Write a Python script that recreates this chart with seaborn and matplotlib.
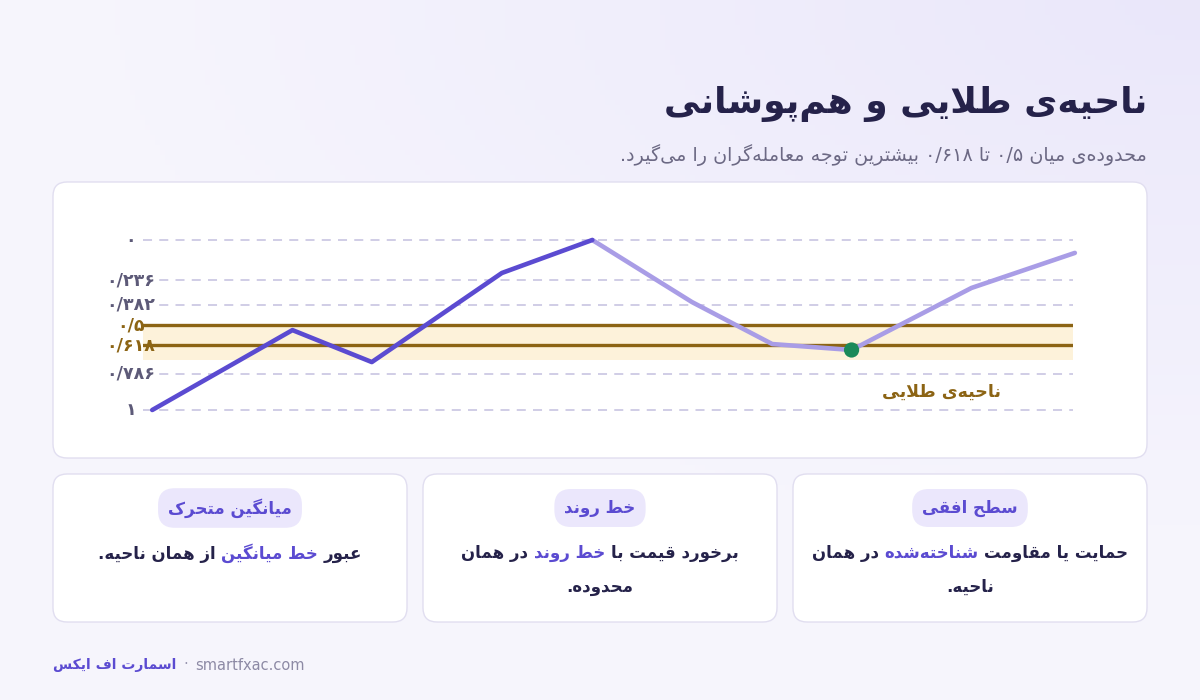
import re
import numpy as np
import matplotlib
matplotlib.use('Agg')
import matplotlib.pyplot as plt
import seaborn as sns
from matplotlib.patches import FancyBboxPatch
from matplotlib.offsetbox import TextArea, HPacker, AnnotationBbox

# Data
levels = [0, 0.236, 0.382, 0.5, 0.618, 0.786, 1]
level_labels = ['۰', '۰/۲۳۶', '۰/۳۸۲', '۰/۵', '۰/۶۱۸', '۰/۷۸۶', '۱']
golden_levels = [0.5, 0.618]
zone = (0.5, 0.705)
price_x = [0, 15.2, 23.8, 37.9, 47.7, 58.5, 67.2, 75.8, 88.8, 100]
price_lvl = [1.0, 0.53, 0.718, 0.194, 0.0, 0.365, 0.612, 0.647, 0.282, 0.076]
swing_high = 4   # impulse ends here, pullback starts
touch_idx = 7    # touch inside golden zone

title = 'ناحیه‌ی طلایی و هم‌پوشانی'
subtitle = 'محدوده‌ی میان ۰/۵ تا ۰/۶۱۸ بیشترین توجه معامله‌گران را می‌گیرد.'
zone_label = 'ناحیه‌ی طلایی'

# cards from left to right
card_titles = ['میانگین متحرک', 'خط روند', 'سطح افقی']
card_lines = [
    [[('عبور', 0), ('خط میانگین', 1), ('از همان ناحیه.', 0)]],
    [[('برخورد قیمت با', 0), ('خط روند', 1), ('در همان', 0)], [('محدوده.', 0)]],
    [[('حمایت یا مقاومت', 0), ('شناخته‌شده', 1), ('در همان', 0)], [('ناحیه.', 0)]],
]
brand = 'اسمارت اف ایکس'
site = 'smartfxac.com'

# colors
INK = '#25224a'
GRAY = '#6c6984'
PURPLE = '#5b4bd1'
LIGHT_PURPLE = '#a99de6'
GOLD = '#8c6414'
ZONE = '#fdf2da'
GRID = '#cdc9e4'
GREEN = '#1b8a5a'
PILL = '#ebe7fc'

# --- tiny persian shaper (no arabic_reshaper available) ---
JOIN = {
    'ا': (0xFE8D, 2), 'آ': (0xFE81, 2), 'ب': (0xFE8F, 4), 'پ': (0xFB56, 4),
    'ت': (0xFE95, 4), 'ث': (0xFE99, 4), 'ج': (0xFE9D, 4), 'چ': (0xFB7A, 4),
    'ح': (0xFEA1, 4), 'خ': (0xFEA5, 4), 'د': (0xFEA9, 2), 'ذ': (0xFEAB, 2),
    'ر': (0xFEAD, 2), 'ز': (0xFEAF, 2), 'ژ': (0xFB8A, 2), 'س': (0xFEB1, 4),
    'ش': (0xFEB5, 4), 'ص': (0xFEB9, 4), 'ض': (0xFEBD, 4), 'ط': (0xFEC1, 4),
    'ظ': (0xFEC5, 4), 'ع': (0xFEC9, 4), 'غ': (0xFECD, 4), 'ف': (0xFED1, 4),
    'ق': (0xFED5, 4), 'ک': (0xFB8E, 4), 'گ': (0xFB92, 4), 'ل': (0xFEDD, 4),
    'م': (0xFEE1, 4), 'ن': (0xFEE5, 4), 'و': (0xFEED, 2), 'ه': (0xFEE9, 4),
    'ی': (0xFBFC, 4), 'ئ': (0xFE89, 4),
}


def shape(s):
    out = []
    i = 0
    n = len(s)
    while i < n:
        c = s[i]
        if c not in JOIN:
            out.append(c)
            i += 1
            continue
        prev = s[i - 1] if i > 0 else None
        jp = prev in JOIN and JOIN[prev][1] == 4
        if c == 'ل' and i + 1 < n and s[i + 1] == 'ا':
            out.append('\uFEFC' if jp else '\uFEFB')
            i += 2
            continue
        nxt = s[i + 1] if i + 1 < n else None
        jn = JOIN[c][1] == 4 and nxt in JOIN
        form = 3 if (jp and jn) else 1 if jp else 2 if jn else 0
        out.append(chr(JOIN[c][0] + form))
        i += 1
    return ''.join(out).replace('\u200c', '')


def rtl(s):
    parts = re.split(r'([0-9۰-۹]+(?:/[0-9۰-۹]+)*)', shape(s))
    return ''.join(p if k % 2 else p[::-1] for k, p in reversed(list(enumerate(parts))))


sns.set_theme(style='white')
plt.rcParams['font.family'] = ['DejaVu Sans']

fig = plt.figure(figsize=(12, 7), dpi=100)

# canvas in pixel units
cv = fig.add_axes([0, 0, 1, 1], zorder=0)
cv.set_xlim(0, 1200)
cv.set_ylim(700, 0)
cv.axis('off')
gx = np.linspace(0, 1, 240)
gy = np.linspace(0, 1, 140)
g = np.clip(1 - np.hypot(gx[None, :] - 1.0, gy[:, None] * 1.2) * 1.1, 0, 1)
bg = np.array([0.965, 0.961, 0.992])[None, None, :] * (1 - g[..., None]) + \
    np.array([0.918, 0.906, 0.980])[None, None, :] * g[..., None]
cv.imshow(bg, extent=(0, 1200, 700, 0), aspect='auto', zorder=0)


def card(x0, y0, x1, y1):
    cv.add_patch(FancyBboxPatch((x0, y0), x1 - x0, y1 - y0,
                                boxstyle='round,pad=0,rounding_size=14',
                                fc='white', ec='#e1def0', lw=1, zorder=1))


card(53, 182, 1147, 458)
for x0 in [53, 423, 793]:
    card(x0, 474, x0 + 354, 622)

cv.text(1147, 104, rtl(title), ha='right', va='center', fontsize=26,
        fontweight='bold', color=INK, zorder=3)
cv.text(1147, 155, rtl(subtitle), ha='right', va='center', fontsize=13.8,
        color=GRAY, zorder=3)

# chart
ax = fig.add_axes([143 / 1200, 1 - 418 / 700, 930 / 1200, 186 / 700], zorder=2)
ax.set_facecolor('none')
ax.set_xlim(-1, 99.8)
ax.set_ylim(1.047, -0.047)
ax.axis('off')

for lv in levels:
    if lv in golden_levels:
        continue
    ax.axhline(lv, color=GRID, lw=1.3, dashes=(5, 4), zorder=1)
ax.axhspan(zone[0], zone[1], color=ZONE, lw=0, zorder=0)
for lv in golden_levels:
    ax.axhline(lv, color=GOLD, lw=2.4, zorder=2)

for lv, lab in zip(levels, level_labels):
    gold = lv in golden_levels
    ax.text(-0.013, lv, rtl(lab), transform=ax.get_yaxis_transform(),
            ha='center', va='center', fontsize=12.5, fontweight='bold',
            color=GOLD if gold else '#5d5a78', zorder=4,
            bbox=dict(fc='white', ec='none', pad=0.5) if not gold else None)

sns.lineplot(x=price_x[swing_high:], y=price_lvl[swing_high:], ax=ax,
             color=LIGHT_PURPLE, lw=3.3, zorder=3, clip_on=False)
sns.lineplot(x=price_x[:swing_high + 1], y=price_lvl[:swing_high + 1], ax=ax,
             color=PURPLE, lw=3.3, zorder=4, clip_on=False)
sns.scatterplot(x=[price_x[touch_idx]], y=[price_lvl[touch_idx]], ax=ax,
                color=GREEN, s=120, edgecolor='none', zorder=5)
ax.text(92, 0.89, rtl(zone_label), ha='right', va='center', fontsize=12.5,
        fontweight='bold', color=GOLD, zorder=4)
ax.set_ylim(1.047, -0.047)

# cards text
for k, x0 in enumerate([53, 423, 793]):
    cx = x0 + 177
    cv.text(cx, 508, rtl(card_titles[k]), ha='center', va='center',
            fontsize=12, fontweight='bold', color=PURPLE, zorder=3,
            bbox=dict(boxstyle='round,pad=0.6,rounding_size=1.0',
                      fc=PILL, ec='none'))
    for j, line in enumerate(card_lines[k]):
        boxes = [TextArea(rtl(seg), textprops=dict(
            fontsize=12, fontweight='bold',
            color=PURPLE if hl else INK)) for seg, hl in reversed(line)]
        pack = HPacker(children=boxes, sep=4, pad=0, align='baseline')
        ab = AnnotationBbox(pack, (cx, 553 + 34 * j), xycoords='data',
                            frameon=False, box_alignment=(0.5, 0.5), pad=0)
        ab.set_zorder(3)
        cv.add_artist(ab)

# footer: brand · site
foot = HPacker(children=[
    TextArea(rtl(brand), textprops=dict(fontsize=10, fontweight='bold', color=PURPLE)),
    TextArea('·', textprops=dict(fontsize=10.5, color='#9a97b0')),
    TextArea(site, textprops=dict(fontsize=10.5, color='#8d8aa5')),
], sep=5, pad=0, align='baseline')
fb = AnnotationBbox(foot, (53, 665), xycoords='data', frameon=False,
                    box_alignment=(0, 0.5), pad=0)
fb.set_zorder(3)
cv.add_artist(fb)

fig.savefig('out.png', dpi=100)
